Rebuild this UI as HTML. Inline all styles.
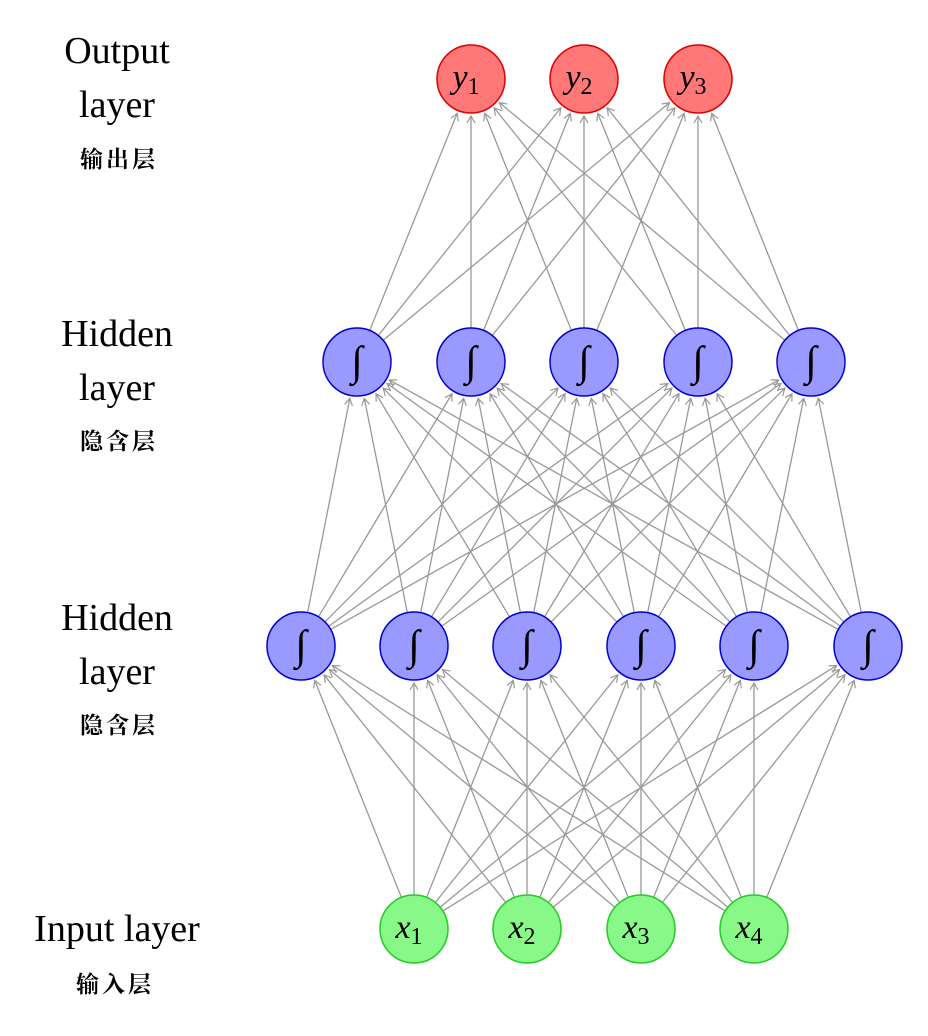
<!DOCTYPE html>
<html><head><meta charset="utf-8"><style>
body{margin:0;background:#fff;width:928px;height:1036px;overflow:hidden}
svg{position:absolute;left:0;top:0}
.l{font-family:"Liberation Serif",serif;font-size:38px;fill:#000;text-anchor:middle}
.c{font-family:"Liberation Serif","Noto Serif CJK SC",serif;font-size:23px;font-weight:bold;fill:#000;text-anchor:middle;letter-spacing:3px}
.n{font-family:"Liberation Serif",serif;font-style:italic;font-size:34px;text-anchor:middle}
.s{font-family:"Liberation Serif",serif;font-size:24px}
</style></head><body>
<svg id="s" width="928" height="1036" xmlns="http://www.w3.org/2000/svg">
<defs><marker id="a" markerWidth="10" markerHeight="10" refX="8" refY="5" orient="auto" markerUnits="userSpaceOnUse"><path d="M1,1 L8,5 L1,9" fill="none" stroke="#999" stroke-width="1.2"/></marker></defs>
<g id="e"></g><g id="nodes"></g>
<text class="l" x="117" y="63">Output</text><text class="l" x="117" y="117">layer</text><text class="c" x="119" y="167">输出层</text>
<text class="l" x="117" y="346">Hidden</text><text class="l" x="117" y="400">layer</text><text class="c" x="119" y="449">隐含层</text>
<text class="l" x="117" y="630">Hidden</text><text class="l" x="117" y="684">layer</text><text class="c" x="119" y="733">隐含层</text>
<text class="l" x="117" y="941">Input layer</text><text class="c" x="115" y="992">输入层</text>
</svg>
<script>
var L=[
 {y:929,xs:[414,527,641,754],f:"#88f888",st:"#22cc22",t:"x"},
 {y:646,xs:[301,414,527,641,754,868],f:"#9999ff",st:"#0000cc",t:"S"},
 {y:362,xs:[357,471,584,698,811],f:"#9999ff",st:"#0000cc",t:"S"},
 {y:79,xs:[471,584,698],f:"#ff7777",st:"#dd0000",t:"y"}];
var R=34,e="",n="";
for(var k=0;k<3;k++){var A=L[k],B=L[k+1];
 A.xs.forEach(function(x1){B.xs.forEach(function(x2){
  var dx=x2-x1,dy=B.y-A.y,d=Math.hypot(dx,dy),ux=dx/d,uy=dy/d;
  e+='<line x1="'+(x1+ux*R)+'" y1="'+(A.y+uy*R)+'" x2="'+(x2-ux*(R+3))+'" y2="'+(B.y-uy*(R+3))+'" stroke="#999" stroke-width="1.3" marker-end="url(#a)"/>';
 });});}
L.forEach(function(A){A.xs.forEach(function(x,i){
 n+='<circle cx="'+x+'" cy="'+A.y+'" r="'+R+'" fill="'+A.f+'" stroke="'+A.st+'" stroke-width="1.5"/>';
 if(A.t=="S") n+='<text x="'+x+'" y="'+(A.y+13)+'" class="n" style="font-style:normal;font-size:42px">∫</text>';
 else n+='<text x="'+(x-5)+'" y="'+(A.y+9)+'" class="n">'+A.t+'<tspan class="s" font-style="normal" dy="6">'+(i+1)+'</tspan></text>';
});});
document.getElementById("e").innerHTML=e;document.getElementById("nodes").innerHTML=n;
</script>
</body></html>
